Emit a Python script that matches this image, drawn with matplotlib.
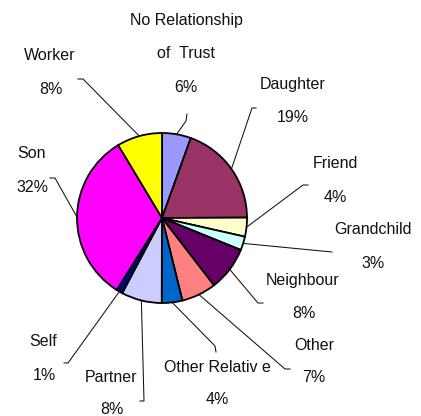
import numpy as np
import matplotlib
matplotlib.use("Agg")
import matplotlib.pyplot as plt

# ---- data ----
categories = ["No Relationship of Trust", "Daughter", "Friend", "Grandchild",
              "Neighbour", "Other", "Other Relative", "Partner", "Self", "Son", "Worker"]
values = [5.5, 19.4, 3.6, 2.6, 8.4, 6.6, 3.9, 7.7, 1.2, 32.4, 8.6]
pct_labels = ["6%", "19%", "4%", "3%", "8%", "7%", "4%", "8%", "1%", "32%", "8%"]
name_labels = [["No Relationship", "of  Trust"], ["Daughter"], ["Friend"], ["Grandchild"],
               ["Neighbour"], ["Other"], ["Other Relativ e"], ["Partner"], ["Self"],
               ["Son"], ["Worker"]]
colors = ["#9999FF", "#993366", "#FFFFCC", "#CCFFFF", "#660066", "#FF8080",
          "#0066CC", "#CCCCFF", "#000080", "#FF00FF", "#FFFF00"]

# ---- layout (pixel positions) ----
W, H = 421, 416
CX, CY, R = 162, 218, 85
name_pos = [(186, 21), (293, 84), (335, 163), (373, 229), (303, 280), (314, 346),
            (217, 367), (111, 377), (43, 341), (32, 154), (50, 56)]
pct_pos = [(186, 88), (293, 117), (335, 197), (373, 263), (304, 313), (314, 378),
           (217, 399), (112, 409), (44, 375), (32, 188), (51, 89)]
leader_pts = [[(186, 121), (187, 114)], [(252, 108), (256, 108)], [(303, 185), (308, 185)],
              [(332, 252)], [(258, 303), (263, 303)], [(285, 369), (290, 369)],
              [(215, 346), (216, 352)], [(144, 401), (140, 401)], [(68, 363), (64, 363)],
              [(55, 178), (50, 178)], [(83, 79), (78, 79)]]


def px(p):
    return ((p[0] - CX) / R, (CY - p[1]) / R)


plt.rcParams['font.family'] = ['Liberation Sans', 'DejaVu Sans']
fig = plt.figure(figsize=(W / 100, H / 100), dpi=100)
ax = fig.add_axes([0, 0, 1, 1])

wedges, _ = ax.pie(values, colors=colors, startangle=90, counterclock=False,
                   radius=1.0, center=(0, 0), frame=True,
                   wedgeprops=dict(edgecolor='black', linewidth=1.3))
ax.set_xlim(-CX / R, (W - CX) / R)
ax.set_ylim((CY - H) / R, CY / R)
ax.set_aspect('equal')
ax.axis('off')

for i, w in enumerate(wedges):
    mid = np.deg2rad((w.theta1 + w.theta2) / 2)
    start = (np.cos(mid), np.sin(mid))
    pts = [start] + [px(p) for p in leader_pts[i]]
    xs, ys = zip(*pts)
    ax.plot(xs, ys, color='#111111', linewidth=0.75, zorder=0.5)
    nx, ny = name_pos[i]
    for j, line in enumerate(name_labels[i]):
        ax.text(*px((nx, ny + 33 * j)), line, ha='center', va='center', fontsize=11.5,
                color='#111111')
    ax.text(*px(pct_pos[i]), pct_labels[i], ha='center', va='center', fontsize=11.5,
            color='#111111')

fig.savefig("out.png", dpi=100, facecolor='white')
